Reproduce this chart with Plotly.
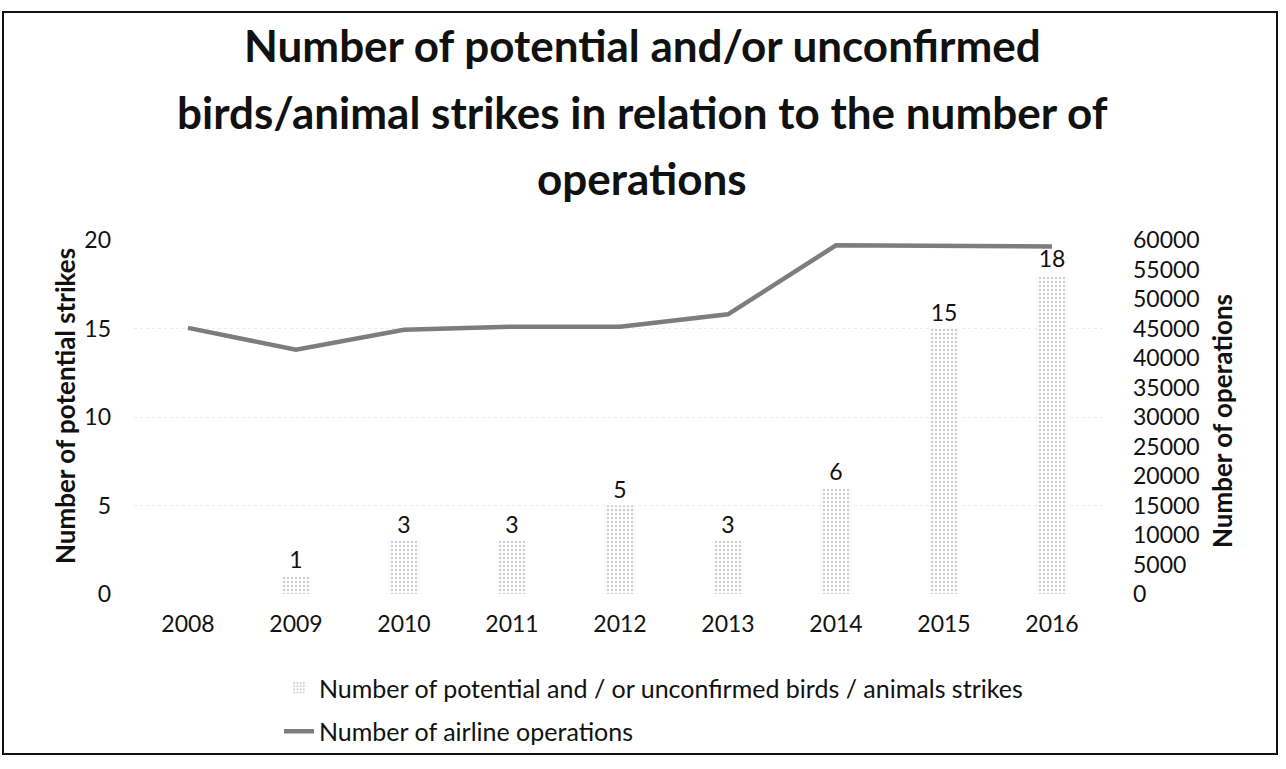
import plotly.graph_objects as go

years = ["2008", "2009", "2010", "2011", "2012", "2013", "2014", "2015", "2016"]
strikes = [0, 1, 3, 3, 5, 3, 6, 15, 18]
operations = [45100, 41400, 44800, 45300, 45300, 47400, 59100, 59000, 58900]

strike_label = "Number of potential and / or unconfirmed birds / animals strikes"
ops_label = "Number of airline operations"
title_lines = [
    "Number of potential and/or unconfirmed",
    "birds/animal strikes in relation to the number of",
    "operations",
]

FONT = "Lato"
W, H = 1286, 769
L, R, T, B = 134, 180, 240, 175
PW, PH = W - L - R, H - T - B


def px_x(x):
    return (x - L) / PW


def px_y(y):
    return (H - B - y) / PH


fig = go.Figure()

fig.add_trace(go.Bar(
    x=years,
    y=strikes,
    name=strike_label,
    legendgroup="a",
    width=0.28,
    text=[str(v) if v else "" for v in strikes],
    textposition="outside",
    textfont=dict(family=FONT, size=23, color="#111"),
    cliponaxis=False,
    marker=dict(
        color="white",
        line=dict(width=0),
        pattern=dict(shape=".", fgcolor="#9a9a9a", bgcolor="white", size=4, solidity=0.3),
    ),
    yaxis="y",
))

fig.add_trace(go.Scatter(
    x=years,
    y=operations,
    name=ops_label,
    legendgroup="b",
    mode="lines",
    line=dict(color="#7d7d7d", width=4.5),
    yaxis="y2",
))

annotations = []
for text, yc in zip(title_lines, [45, 112, 178]):
    annotations.append(dict(
        text=f"<b>{text}</b>", xref="paper", yref="paper",
        x=px_x(642), y=px_y(yc), xanchor="center", yanchor="middle",
        showarrow=False, font=dict(family=FONT, size=44, color="#111"),
    ))
annotations.append(dict(
    text="<b>Number of potential strikes</b>", xref="paper", yref="paper",
    x=px_x(65), y=px_y(406), xanchor="center", yanchor="middle", textangle=-90,
    showarrow=False, font=dict(family=FONT, size=26, color="#111"),
))
annotations.append(dict(
    text="<b>Number of operations</b>", xref="paper", yref="paper",
    x=px_x(1222), y=px_y(421), xanchor="center", yanchor="middle", textangle=-90,
    showarrow=False, font=dict(family=FONT, size=26, color="#111"),
))

fig.update_layout(
    width=W, height=H,
    margin=dict(l=L, r=R, t=T, b=B),
    paper_bgcolor="white", plot_bgcolor="white",
    font=dict(family=FONT, size=23, color="#111"),
    bargap=0.72,
    xaxis=dict(
        type="category", showline=False, ticks="", showgrid=False,
        tickfont=dict(family=FONT, size=23, color="#111"),
        ticklabelstandoff=14,
    ),
    yaxis=dict(
        range=[0, 20], dtick=5, showline=False, ticks="", zeroline=False,
        showgrid=True, gridcolor="#ececec", griddash="dot", gridwidth=1,
        tickfont=dict(family=FONT, size=23, color="#111"),
        ticklabelstandoff=22,
    ),
    yaxis2=dict(
        range=[0, 60000], dtick=5000, tickformat="d", overlaying="y", side="right",
        showline=False, ticks="", showgrid=False, zeroline=False,
        tickfont=dict(family=FONT, size=23, color="#111"),
        ticklabelstandoff=26,
    ),
    legend=dict(
        orientation="v", x=px_x(279), y=px_y(665), xanchor="left", yanchor="top",
        font=dict(family=FONT, size=25, color="#111"),
        tracegroupgap=8, bgcolor="rgba(0,0,0,0)",
    ),
    showlegend=True,
    annotations=annotations,
    shapes=[dict(
        type="rect", xref="paper", yref="paper",
        x0=px_x(3), x1=px_x(1277), y0=px_y(754), y1=px_y(12),
        line=dict(color="#111", width=2), fillcolor="rgba(0,0,0,0)", layer="below",
    )],
)

fig.write_html("out.html")
